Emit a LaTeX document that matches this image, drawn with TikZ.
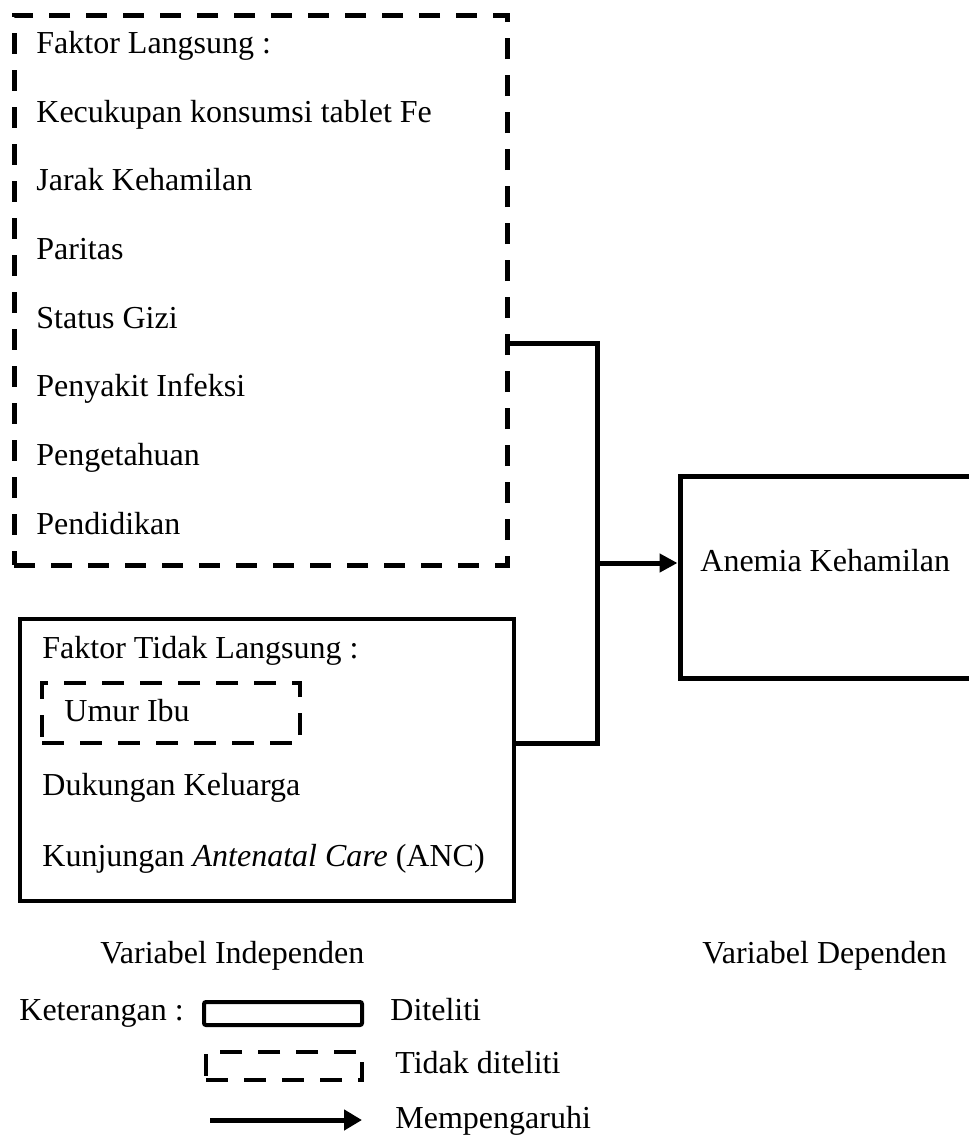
\documentclass[tikz,border=0pt]{standalone}
\usepackage{fontspec}
\setmainfont{Liberation Serif}
\usetikzlibrary{fit,arrows.meta}
\begin{document}
\begin{tikzpicture}[x=0.5pt,y=-0.5pt,
  every node/.style={font=\fontsize{16}{19}\selectfont},
  txt/.style={anchor=base west, inner sep=0pt},
  dbox/.style={draw, line width=2.5pt, dash pattern=on 10.5pt off 8pt, inner sep=0pt},
  ldbox/.style={draw, line width=2.2pt, dash pattern=on 11pt off 8pt, inner sep=0pt},
  sbox/.style={draw, line width=2.3pt, inner sep=0pt},
  conn/.style={line width=2.5pt},
  arr/.style={line width=2.5pt, -{Triangle[length=9pt,width=9pt]}},
  larr/.style={line width=2.5pt, -{Triangle[length=9pt,width=10pt]}}]
\useasboundingbox (0,0) rectangle (969,1137);
\clip (0,0) rectangle (969,1137);

% Box 1: Faktor Langsung (dashed)
\node[dbox, fit={(14,15) (507,565)}] (box1) {};
\node[txt] (l1) at (36,53) {Faktor Langsung :};
\node[txt] (l2) at (36,122) {Kecukupan konsumsi tablet Fe};
\node[txt] (l3) at (36,190) {Jarak Kehamilan};
\node[txt] (l4) at (36,259) {Paritas};
\node[txt] (l5) at (36,328) {Status Gizi};
\node[txt] (l6) at (36,396) {Penyakit Infeksi};
\node[txt] (l7) at (36,465) {Pengetahuan};
\node[txt] (l8) at (36,534) {Pendidikan};

% Box 2: Faktor Tidak Langsung (solid)
\node[sbox, fit={(20,619) (514,901)}] (box2) {};
\node[txt] (t1) at (42,658) {Faktor Tidak Langsung :};
\node[ldbox, fit={(42,683) (300,743)}] (umurbox) {};
\node[txt] (t2) at (64,721) {Umur Ibu};
\node[txt] (t3) at (42,795) {Dukungan Keluarga};
\node[txt] (t4) at (42,866) {Kunjungan \textit{Antenatal Care} (ANC)};

% Dependent box
\node[sbox, line width=2.5pt, fit={(680,476) (1000,678)}] (anemia) {};
\node[txt] (at) at (700,571) {Anemia Kehamilan};

% Connectors
\coordinate (ctop) at (597,343);
\coordinate (cbot) at (597,743);
\coordinate (cmid) at (597,563);
\draw[conn] (box1.east |- ctop) -- (ctop) -- (cbot) -- (box2.east |- cbot);
\draw[arr] (cmid) -- (anemia.west |- cmid);

% Captions
\node[txt] (vi) at (100,963) {Variabel Independen};
\node[txt] (vd) at (702,963) {Variabel Dependen};

% Legend
\node[txt] (ket) at (19,1020) {Keterangan :};
\node[draw, line width=2pt, rounded corners=1pt, inner sep=0pt, fit={(204,1002) (362,1025)}] (legs) {};
\node[txt] (dit) at (390,1020) {Diteliti};
\node[draw, line width=2pt, dash pattern=on 11pt off 8pt, inner sep=0pt, fit={(206,1052) (362,1080)}] (legd) {};
\node[txt] (tdit) at (395,1073) {Tidak diteliti};
\coordinate (la1) at (210,1120);
\node[txt] (mp) at (395,1128) {Mempengaruhi};
\draw[larr] (la1) -- (362,1120);
\end{tikzpicture}
\end{document}
